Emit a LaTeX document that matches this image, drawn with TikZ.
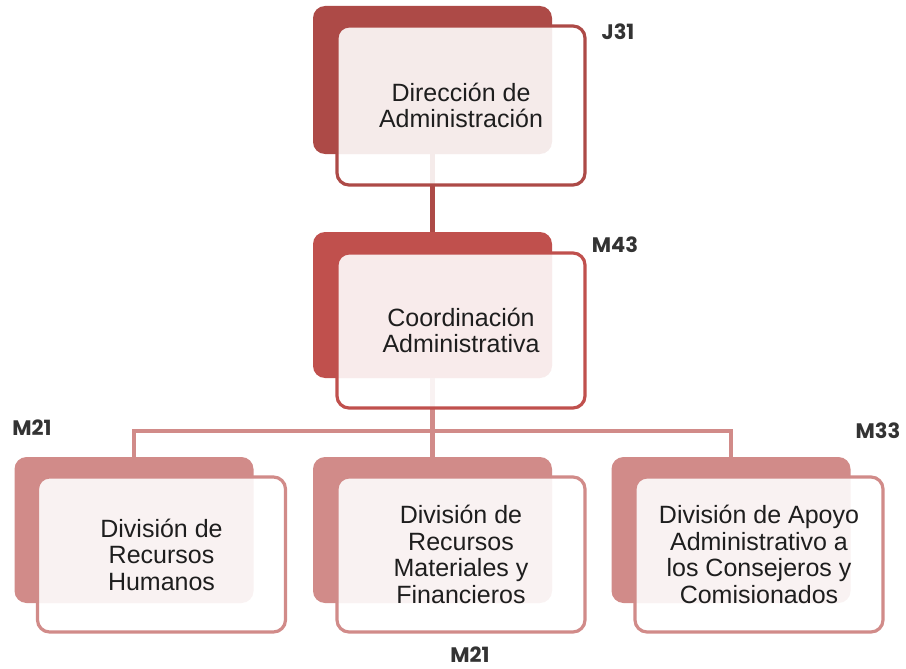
\documentclass[tikz,border=0pt]{standalone}
\usepackage{fontspec}
\setmainfont{Liberation Sans}
\newfontfamily\lblfont{Poppins}
\definecolor{cA}{HTML}{AD4A47}
\definecolor{cB}{HTML}{C0504D}
\definecolor{cC}{HTML}{D18B89}
\definecolor{txt}{HTML}{1E1E1E}
\definecolor{lbl}{HTML}{333333}
\begin{document}
\begin{tikzpicture}[x=1pt,y=-1pt,
  back/.style={rectangle,rounded corners=12pt,inner sep=0pt,minimum width=239pt,minimum height=146pt},
  front/.style={rectangle,rounded corners=12pt,inner sep=0pt,line width=3.2pt,fill=white,fill opacity=0.89,text opacity=1,
     minimum width=248pt,minimum height=155pt,align=center,text=txt,font=\fontsize{25}{26.5}\selectfont},
  conn/.style={line width=5pt},
  code/.style={font=\lblfont\bfseries\fontsize{21}{24}\selectfont,text=lbl,inner sep=0pt}]
\useasboundingbox (0,0) rectangle (906,669);
% back rectangles
\node[back,fill=cA,minimum height=148pt] (b1) at (432.5,80) {};
\node[back,fill=cB] (b2) at (432.5,305) {};
\node[back,fill=cC] (b3) at (134,530) {};
\node[back,fill=cC] (b4) at (432.5,530) {};
\node[back,fill=cC] (b5) at (731,530) {};
% connectors
\coordinate (bus) at (433,431);
\draw[conn,draw=cA] (b1.south) -- (b2.north);
\draw[conn,draw=cC] (b2.south) -- (b4.north);
\draw[conn,draw=cC,line width=4.5pt] (b3.north) |- (bus) -| (b5.north);
% front boxes
\node[front,draw=cA,minimum height=159pt] (f1) at (461,105.5) {Dirección de\\Administración};
\node[front,draw=cB] (f2) at (461,330.5) {Coordinación\\Administrativa};
\node[front,draw=cC] (f3) at (161.5,554.5) {División de\\Recursos\\Humanos};
\node[front,draw=cC] (f4) at (461,554.5) {División de\\Recursos\\Materiales y\\Financieros};
\node[front,draw=cC] (f5) at (759,554.5) {División de Apoyo\\Administrativo a\\los Consejeros y\\Comisionados};
% codes
\node[code] (l1) at (618,32) {J31};
\node[code] (l2) at (615,245) {M43};
\node[code] (l3) at (32,428) {M21};
\node[code] (l4) at (878,431) {M33};
\node[code] (l5) at (470,655) {M21};
\end{tikzpicture}
\end{document}
